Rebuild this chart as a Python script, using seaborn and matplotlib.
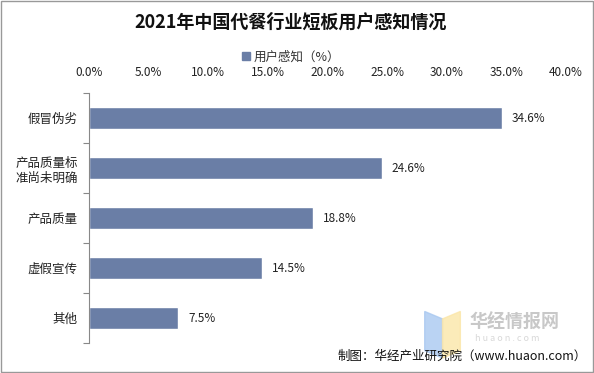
import matplotlib
matplotlib.use("Agg")
import matplotlib.pyplot as plt
import seaborn as sns
import pandas as pd
from matplotlib.patches import Rectangle, Polygon
from matplotlib.ticker import FixedLocator

# data
categories = ["假冒伪劣", "产品质量标\n准尚未明确", "产品质量", "虚假宣传", "其他"]
values = [34.6, 24.6, 18.8, 14.5, 7.5]
xticks = [0, 5, 10, 15, 20, 25, 30, 35, 40]

sns.set_theme(style="white")
plt.rcParams['font.family'] = ['Noto Sans CJK SC', 'DejaVu Sans']

bar_color = "#6a7ea6"
df = pd.DataFrame({"cat": categories, "val": values})

fig = plt.figure(figsize=(5.94, 3.73), dpi=100)
ax = fig.add_axes([0.1498, 0.08, 0.953 - 0.1498, 0.6707])

sns.barplot(data=df, y="cat", x="val", orient="h", color=bar_color,
            saturation=1, width=0.44, ax=ax)

ax.set_xlim(0, 40)
ax.set_ylim(4.5, -0.5)
ax.xaxis.tick_top()
ax.set_xticks(xticks)
ax.set_xticklabels([f"{t:.1f}%" for t in xticks], fontsize=8.5, color="#222222")
ax.tick_params(axis="x", length=0, pad=10)
ax.tick_params(axis="y", which="major", length=0, pad=8, labelsize=9, labelcolor="#222222")
ax.yaxis.set_minor_locator(FixedLocator([i - 0.5 for i in range(6)]))
ax.tick_params(axis="y", which="minor", length=4, color="#888888", width=0.8, left=True)
ax.set_xlabel("")
ax.set_ylabel("")
for s in ["top", "right", "bottom"]:
    ax.spines[s].set_visible(False)
ax.spines["left"].set_color("#888888")
ax.spines["left"].set_linewidth(0.8)

for i, v in enumerate(values):
    ax.text(v + 0.8, i, f"{v}%", va="center", ha="left", fontsize=8.5, color="#222222")

# legend
handle = Rectangle((0, 0), 1, 1, color=bar_color)
fig.legend([handle], ["用户感知（%）"], loc="center", bbox_to_anchor=(0.49, 0.848),
           frameon=False, fontsize=9, handlelength=0.6, handleheight=0.6,
           handletextpad=0.3, labelcolor="#333333")

fig.text(0.49, 0.94, "2021年中国代餐行业短板用户感知情况", ha="center", va="center",
         fontsize=13, fontweight="bold", color="#111111")

# watermark
fig.patches.append(Polygon([[0.715, 0.165], [0.745, 0.145], [0.745, 0.04], [0.715, 0.06]],
                           closed=True, transform=fig.transFigure, color="#a9c8f0", alpha=0.8))
fig.patches.append(Polygon([[0.745, 0.145], [0.775, 0.165], [0.775, 0.06], [0.745, 0.04]],
                           closed=True, transform=fig.transFigure, color="#fbe6a8", alpha=0.8))
fig.text(0.79, 0.135, "华经情报网", fontsize=13, fontweight="bold", color="#c8c8c8", va="center")
fig.text(0.80, 0.092, "h u a o n . c o m", fontsize=6.5, color="#d8d8d8", va="center")

fig.text(0.988, 0.045, "制图：华经产业研究院（www.huaon.com）", ha="right", va="center",
         fontsize=9, color="#111111")

fig.patches.append(Rectangle((0.001, 0.002), 0.997, 0.995, transform=fig.transFigure,
                             fill=False, edgecolor="#999999", linewidth=1))

fig.savefig("out.png", dpi=100)
